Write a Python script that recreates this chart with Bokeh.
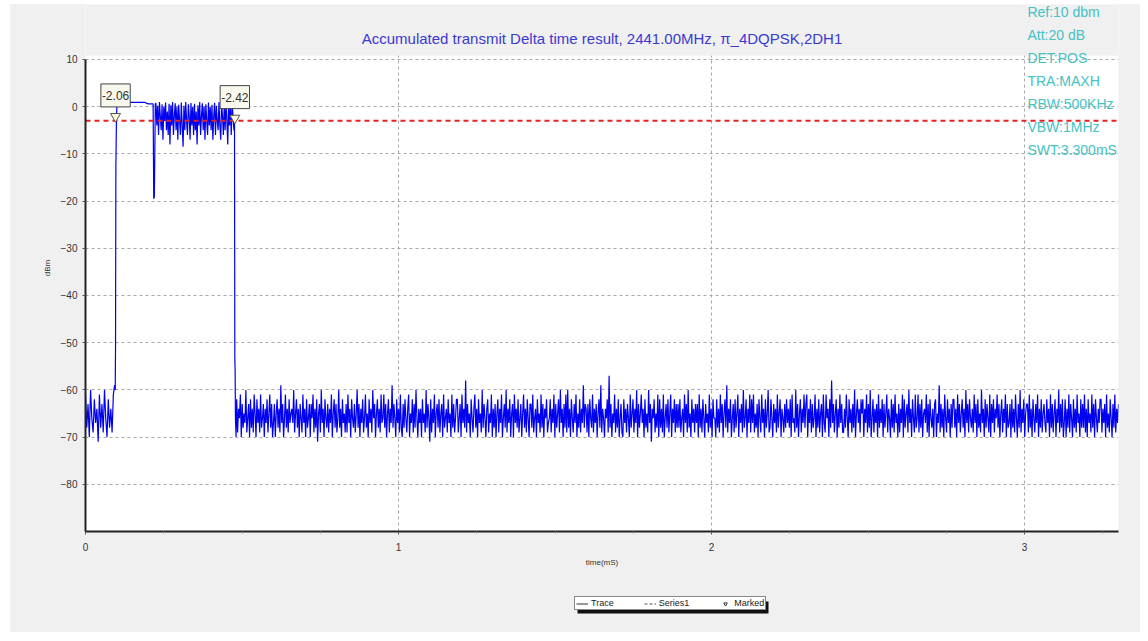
import numpy as np
from bokeh.plotting import figure
from bokeh.layouts import column
from bokeh.models import Range1d, FixedTicker, Label, Legend, LegendItem, BoxAnnotation
from bokeh.embed import file_html
from bokeh.resources import INLINE

FONT = "Liberation Sans"

# ---------------- data (time in ms, level in dBm) ----------------
pre_noise_span = [0.0, 0.093]
pre_noise_dbm = [-61, -68, -63, -70, -60, -66, -69, -62, -67, -64, -71, -61, -68, -63, -69, -60,
                 -66, -70, -62, -68, -64, -69, -61, -59]

rise_t = [0.095, 0.096, 0.097, 0.099, 0.101]
rise_dbm = [-60, -50, -13, -2.06, 1.0]

hold_t = [0.13, 0.135, 0.19, 0.20, 0.216]
hold_dbm = [1.2, 0.9, 0.9, 0.6, 0.6]

dip_t = [0.218, 0.220, 0.223]
dip_dbm = [-19.5, -19.0, 0.5]

burst_span = [0.225, 0.474]
burst_dbm = [0.8, -4, 0.2, -6, 1, -2, -5, 0.5, -7, 0, -3, 0.9, -5, -1, -6, 0.6, -8, 0.3, -4, 1,
             -6, -2, 0.7, -5, 0, -7, 0.4, -3, -6, 0.9, -4, -8.5, 0.2, -5, 1, -3, -6, 0.5, -2, -7,
             0.8, -4, 0, -6, 0.6, -5, -1, -8, 0.3, -4, 1, -6, -2, 0.7, -5, 0.1, -7, 0.5, -3, -6,
             0.9, -4, 0, -5, 0.4, -7, -2, 0.8, -6, 0.2, -3, -5, 1, -4, -7, 0.6, -2, -6, 0.3, -5,
             0.9, -3, -8, 0.5, -4, 0, -6, 0.7, -2, -5]

fall_t = [0.476, 0.477, 0.478, 0.479, 0.481]
fall_dbm = [-2.42, -53, -56, -66, -70]

post_noise_span = [0.483, 3.3]
post_noise_dbm = [
    -62, -69, -64, -66, -61, -70, -63, -68, -65, -67, -60, -69, -66, -63, -70, -62, -68, -64, -69, -61,
    -65, -70, -62, -67, -64, -69, -61, -68, -66, -63, -70, -64, -67, -62, -69, -65, -61, -68, -63, -70,
    -67, -63, -70, -65, -62, -68, -64, -69, -59, -67, -63, -70, -66, -61, -68, -64, -69, -62, -67, -65,
    -64, -67, -60, -69, -65, -62, -68, -64, -70, -63, -66, -69, -61, -67, -64, -70, -62, -68, -66, -63,
    -70, -63, -66, -61, -69, -64, -68, -62, -71, -65, -63, -69, -60, -67, -64, -70, -62, -66, -68, -63,
    -69, -64, -67, -61, -70, -65, -62, -68, -63, -69, -66, -60, -68, -64, -70, -62, -67, -65, -69, -63,
    -69, -61, -67, -64, -70, -62, -66, -68, -63, -69, -65, -60, -68, -63, -70, -64, -67, -62, -69, -66,
    -61, -68, -65, -70, -62, -67, -64, -69, -60, -66, -63, -70, -65, -62, -68, -64, -69, -61, -67, -66,
    -61, -68, -63, -70, -65, -62, -69, -64, -67, -59, -68, -63, -66, -70, -62, -67, -64, -69, -61, -68,
    -70, -63, -68, -62, -66, -69, -64, -61, -70, -65, -67, -62, -69, -63, -68, -60, -66, -70, -64, -67,
    -64, -70, -62, -67, -65, -69, -60, -68, -63, -66, -71, -62, -69, -64, -67, -61, -70, -65, -63, -68,
    -62, -69, -65, -63, -70, -61, -68, -66, -64, -69, -62, -67, -65, -70, -61, -68, -63, -69, -66, -62,
    -62, -69, -66, -63, -70, -61, -67, -64, -68, -58, -69, -63, -67, -65, -70, -62, -66, -69, -64, -61,
    -68, -64, -70, -62, -67, -65, -69, -60, -68, -63, -66, -70, -64, -62, -69, -65, -67, -61, -70, -64,
    -68, -63, -70, -65, -62, -69, -64, -67, -61, -70, -66, -63, -68, -60, -69, -64, -67, -62, -70, -65,
    -63, -70, -61, -67, -64, -68, -62, -69, -66, -63, -70, -65, -61, -68, -64, -69, -62, -66, -70, -63,
    -63, -68, -61, -69, -66, -64, -70, -62, -67, -65, -69, -61, -68, -63, -70, -64, -66, -62, -69, -67,
    -66, -62, -69, -64, -67, -61, -70, -63, -68, -65, -62, -69, -60, -67, -64, -70, -63, -68, -61, -69,
    -60, -68, -64, -70, -62, -66, -69, -63, -67, -61, -70, -65, -68, -62, -69, -64, -67, -59, -68, -63,
    -64, -69, -63, -70, -62, -66, -68, -61, -69, -64, -67, -63, -70, -65, -62, -68, -59, -69, -64, -66,
    -70, -64, -66, -62, -69, -57, -68, -63, -70, -65, -67, -61, -69, -64, -68, -62, -70, -66, -63, -69,
    -70, -62, -67, -64, -69, -63, -66, -70, -61, -68, -65, -62, -69, -64, -67, -60, -70, -63, -68, -65,
    -61, -67, -64, -70, -62, -68, -65, -69, -60, -67, -63, -71, -64, -66, -62, -69, -65, -68, -61, -70,
    -62, -68, -64, -69, -61, -70, -66, -63, -68, -62, -69, -65, -61, -70, -64, -67, -62, -69, -63, -68,
    -63, -68, -62, -69, -66, -64, -70, -61, -67, -63, -69, -60, -68, -65, -70, -62, -67, -64, -69, -63,
    -67, -63, -70, -61, -68, -64, -69, -62, -66, -70, -63, -67, -65, -69, -61, -68, -64, -70, -62, -66,
    -66, -70, -62, -68, -64, -69, -61, -67, -63, -70, -65, -62, -68, -59, -69, -64, -67, -62, -70, -66,
    -63, -69, -62, -68, -65, -61, -70, -64, -67, -63, -69, -60, -68, -66, -62, -70, -64, -67, -61, -69,
    -62, -67, -61, -69, -65, -68, -63, -70, -62, -66, -69, -61, -67, -64, -70, -62, -68, -65, -60, -69,
    -68, -62, -66, -70, -63, -67, -64, -69, -61, -68, -65, -62, -70, -64, -66, -69, -63, -68, -62, -67,
    -64, -68, -62, -70, -61, -67, -66, -69, -60, -68, -63, -70, -65, -62, -69, -64, -67, -61, -68, -63,
    -61, -70, -64, -67, -62, -69, -63, -68, -66, -61, -70, -64, -68, -62, -69, -65, -63, -70, -61, -67,
    -69, -61, -66, -64, -70, -62, -68, -58, -67, -63, -69, -65, -62, -70, -64, -68, -61, -67, -63, -69,
    -69, -64, -68, -61, -66, -70, -62, -67, -64, -69, -63, -68, -60, -70, -65, -62, -67, -64, -69, -62,
    -65, -62, -70, -64, -67, -61, -69, -63, -68, -60, -70, -66, -62, -69, -64, -67, -63, -70, -61, -68,
    -64, -67, -62, -70, -63, -68, -65, -61, -69, -64, -66, -70, -62, -68, -63, -69, -61, -67, -65, -70,
    -63, -69, -64, -67, -61, -70, -62, -68, -65, -63, -69, -60, -67, -64, -70, -62, -66, -69, -61, -68,
    -66, -61, -69, -63, -68, -62, -70, -65, -64, -67, -61, -69, -63, -70, -62, -66, -68, -64, -70, -63,
    -62, -70, -65, -67, -59, -69, -63, -68, -64, -70, -61, -66, -69, -62, -67, -64, -70, -63, -68, -62,
    -62, -68, -64, -70, -61, -67, -63, -69, -65, -62, -68, -64, -70, -60, -67, -63, -69, -62, -66, -68,
    -64, -69, -61, -67, -63, -70, -62, -68, -65, -69, -60, -67, -64, -70, -62, -68, -63, -66, -69, -61,
    -70, -63, -67, -62, -69, -64, -66, -61, -68, -63, -70, -65, -62, -69, -64, -67, -61, -70, -63, -68,
    -67, -63, -70, -62, -68, -64, -69, -61, -66, -70, -63, -68, -60, -69, -64, -67, -62, -70, -65, -63,
    -63, -69, -61, -68, -64, -70, -62, -66, -69, -63, -67, -61, -70, -64, -68, -62, -69, -65, -63, -67,
    -69, -62, -67, -64, -70, -61, -68, -63, -69, -65, -62, -70, -64, -67, -60, -69, -63, -68, -62, -70,
    -67, -62, -70, -64, -68, -61, -69, -63, -66, -70, -62, -68, -64, -69, -61, -67, -65, -70, -62, -68,
    -63, -68, -61, -69, -64, -70, -62, -67, -65, -69, -61, -68, -63, -70, -62, -66, -69, -64, -67, -62,
    -62, -69, -64, -67, -63, -70, -61, -68, -65, -69, -62, -66, -70, -63, -68, -61, -69, -64, -67, -63,
]

threshold_dbm = -3.0
marker_t = [0.096, 0.477]
marker_dbm = [-2.06, -2.42]
marker_text = ["-2.06", "-2.42"]

x_ticks = [0, 1, 2, 3]
x_minor_ticks = [0.25, 0.5, 0.75, 1.25, 1.5, 1.75, 2.25, 2.5, 2.75, 3.25]
y_ticks = [10, 0, -10, -20, -30, -40, -50, -60, -70, -80]

info_lines = ["Ref:10 dbm", "Att:20 dB", "DET:POS", "TRA:MAXH", "RBW:500KHz", "VBW:1MHz", "SWT:3.300mS"]
legend_labels = ["Trace", "Series1", "Marked"]

title_text = "Accumulated transmit Delta time result, 2441.00MHz, \u03c0_4DQPSK,2DH1"

# sample times of the sweep segments (evenly spaced sweep points)
pre_t = np.linspace(pre_noise_span[0], pre_noise_span[1], len(pre_noise_dbm))
burst_t = np.linspace(burst_span[0], burst_span[1], len(burst_dbm))
post_t = np.linspace(post_noise_span[0], post_noise_span[1], len(post_noise_dbm))

trace_t = np.concatenate([pre_t, rise_t, hold_t, dip_t, burst_t, fall_t, post_t])
trace_dbm = np.concatenate([pre_noise_dbm, rise_dbm, hold_dbm, dip_dbm, burst_dbm, fall_dbm, post_noise_dbm])

BG = "#f0f0f0"

# ---------------- main figure ----------------
# the frame also spans the header strip (title + settings), which is painted grey
x0, x1 = 0, 3.3
y_lo, y_hi = -90, 10
y_top = 21.65
p = figure(width=1130, height=586, x_range=Range1d(x0, x1), y_range=Range1d(y_lo, y_top),
           output_backend="svg", toolbar_location=None,
           min_border_left=75, min_border_right=22, min_border_top=0, min_border_bottom=59,
           background_fill_color="white", border_fill_color=BG, outline_line_color=None)
p.title.visible = False

for ax in (p.xaxis[0], p.yaxis[0]):
    ax.axis_line_width = 2
    ax.axis_line_color = "#222222"
    ax.major_tick_in = 0
    ax.major_tick_out = 3
    ax.minor_tick_in = 0
    ax.minor_tick_out = 2
    ax.major_tick_line_color = "#555555"
    ax.minor_tick_line_color = "#888888"
    ax.major_label_text_font = FONT
    ax.major_label_text_font_size = "10px"
    ax.major_label_text_color = "#333333"
    ax.axis_label_text_font = FONT
    ax.axis_label_text_font_size = "8px"
    ax.axis_label_text_font_style = "normal"
    ax.axis_label_text_color = "#333333"

p.xaxis.ticker = FixedTicker(ticks=x_ticks, minor_ticks=x_minor_ticks)
p.yaxis.ticker = FixedTicker(ticks=y_ticks)
p.yaxis.bounds = (y_lo, y_hi)
p.xaxis.axis_label = "time(mS)"
p.yaxis.axis_label = "dBm"
p.xaxis.major_label_standoff = 8
p.xaxis.axis_label_standoff = 4
p.yaxis.major_label_standoff = 5
p.yaxis.axis_label_standoff = 6

p.xgrid.grid_line_color = "#a8a8a8"
p.xgrid.grid_line_dash = "3 3"
p.ygrid.grid_line_color = "#a8a8a8"
p.ygrid.grid_line_dash = "3 3"

trace_r = p.line(trace_t, trace_dbm, line_color="#0000f0", line_width=1.2)
thr_r = p.line([x0, x1], [threshold_dbm, threshold_dbm], line_color="#e82020",
               line_width=2, line_dash="5 4")
mk_r = p.scatter(marker_t, marker_dbm, marker="inverted_triangle", size=10,
                 fill_color="#fbfbd8", line_color="#555555", line_width=1)

# grey header strip above the plotting area
p.add_layout(BoxAnnotation(bottom=y_hi + 0.8, fill_color=BG, fill_alpha=1.0, line_alpha=0.0))

p.add_layout(Label(x=(x0 + x1) / 2, y=14.45, text=title_text, text_align="center",
                   text_baseline="middle", text_font=FONT, text_font_size="15px",
                   text_color="#3a3ad0"))

for t, d, s in zip(marker_t, marker_dbm, marker_text):
    p.add_layout(Label(x=t, y=d, text=s, x_offset=0, y_offset=21, text_align="center",
                       text_baseline="middle", text_font=FONT, text_font_size="12px",
                       text_color="#333333", background_fill_color="#f8f8ec",
                       border_line_color="#444444", padding=(1, 7)))

# instrument settings block (top right)
for i, s in enumerate(info_lines):
    p.add_layout(Label(x=3.009, y=19.96 - i * 4.87, text=s, text_align="left",
                       text_baseline="middle", text_font=FONT, text_font_size="14px",
                       text_color="#45c2c2"))

# ---------------- legend strip (below the chart) ----------------
# its frame is aligned with the chart's frame; 1 data unit = 1 px
lg = figure(width=1130, height=42, x_range=Range1d(0, 1033), y_range=Range1d(0, 42),
            output_backend="svg", toolbar_location=None, x_axis_location=None,
            y_axis_location=None, min_border=0, background_fill_color=BG,
            border_fill_color=BG, outline_line_color=None)
lg.title.visible = False
lg.xgrid.visible = False
lg.ygrid.visible = False
# legend-only renderers, their single sample lies outside the visible strip
g1 = lg.line(x=[-10, -5], y=[-10, -10], line_color="#333333", line_width=1)
g2 = lg.line(x=[-10, -5], y=[-10, -10], line_color="#555555", line_width=1, line_dash="3 2")
g3 = lg.scatter(x=[-10], y=[-10], marker="inverted_triangle", size=7, fill_color="white",
                line_color="#333333")
lg.add_layout(BoxAnnotation(left=492, right=683, bottom=19, top=31, fill_color="#111111",
                            fill_alpha=1.0, line_alpha=0.0))
legend = Legend(items=[LegendItem(label=legend_labels[0], renderers=[g1]),
                       LegendItem(label=legend_labels[1], renderers=[g2]),
                       LegendItem(label=legend_labels[2], renderers=[g3])],
                orientation="horizontal", location=(489, 22), margin=0, padding=1,
                spacing=30, glyph_width=12, glyph_height=9, label_height=9, label_standoff=3,
                label_text_font=FONT, label_text_font_size="9px", label_text_color="#222222",
                border_line_color="#111111", border_line_width=1, background_fill_color="white",
                background_fill_alpha=1)
lg.add_layout(legend, "center")

layout = column(p, lg, margin=(4, 0, 0, 10), spacing=0, styles={"background-color": BG})

open("out.html", "w").write(file_html(layout, INLINE))
